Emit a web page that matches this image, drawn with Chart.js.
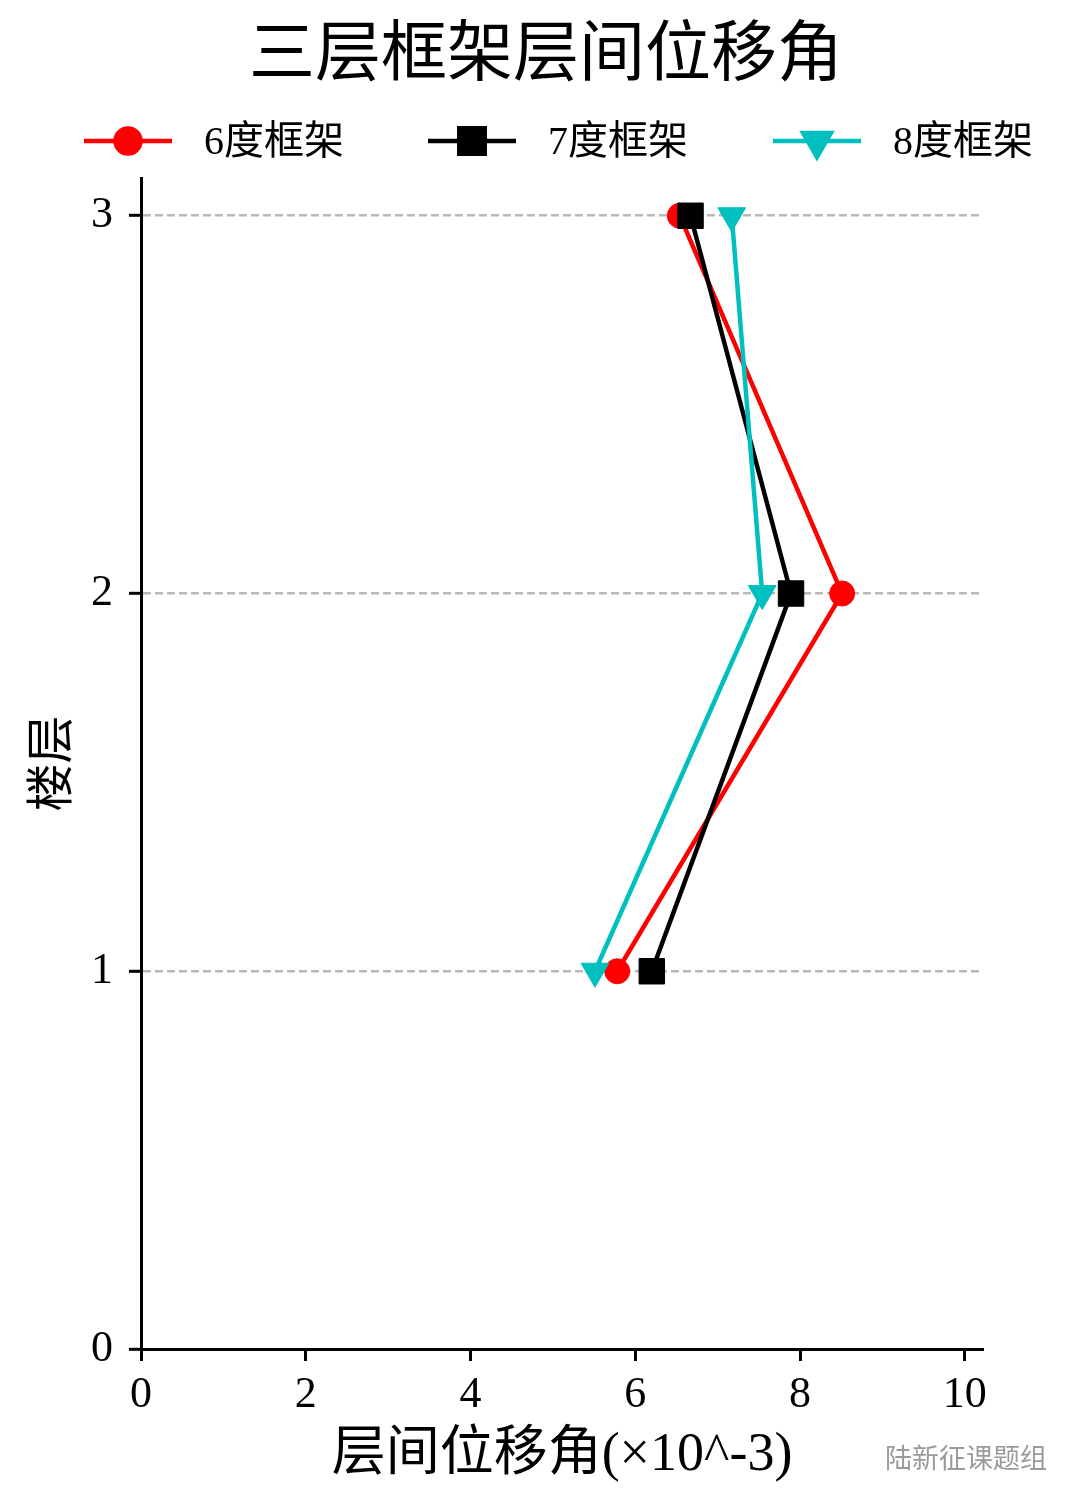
<!DOCTYPE html>
<html>
<head>
<meta charset="utf-8">
<script src="https://cdn.jsdelivr.net/npm/chart.js@4.4.0/dist/chart.umd.min.js"></script>
<style>
  html, body { margin: 0; padding: 0; background: #fff; }
  #wrap { width: 1080px; height: 1508px; position: relative; }
</style>
</head>
<body>
<div id="wrap"><canvas id="chart"></canvas></div>
<script>
// === DATA ===
const floors = [1, 2, 3];
const drift6 = [5.78, 8.51, 6.54];
const drift7 = [6.20, 7.89, 6.67];
const drift8 = [5.51, 7.54, 7.17];
const seriesNames = ['6度框架', '7度框架', '8度框架'];
const titleText = '三层框架层间位移角';
const xTitle = '层间位移角(×10^-3)';
const yTitle = '楼层';
const watermark = '陆新征课题组';

const FONT = '"Liberation Serif", "Noto Sans CJK SC", serif';
Chart.defaults.font.family = FONT;
Chart.defaults.color = '#000';

const toPts = arr => arr.map((v, i) => ({ x: v, y: floors[i] }));

// title + legend + watermark drawn on top of the canvas
const headerPlugin = {
  id: 'header',
  afterDraw(chart) {
    const ctx = chart.ctx;
    ctx.save();
    ctx.fillStyle = '#000';
    ctx.font = '66px ' + FONT;
    ctx.textAlign = 'center';
    ctx.textBaseline = 'middle';
    ctx.fillText(titleText, 546, 58);

    const legendX = [84, 428, 773];
    chart.data.datasets.forEach((ds, i) => {
      const x0 = legendX[i], y0 = 141;
      ctx.strokeStyle = ds.borderColor;
      ctx.lineWidth = ds.borderWidth;
      ctx.beginPath(); ctx.moveTo(x0, y0); ctx.lineTo(x0 + 88, y0); ctx.stroke();
      ctx.fillStyle = ds.pointBackgroundColor;
      ctx.strokeStyle = ds.pointBorderColor;
      Chart.helpers.drawPoint(ctx, { pointStyle: ds.pointStyle, radius: ds.pointRadius, rotation: ds.pointRotation || 0, borderWidth: 1 }, x0 + 44, y0);
      ctx.fillStyle = '#000';
      ctx.font = '40px ' + FONT;
      ctx.textAlign = 'left';
      ctx.fillText(ds.label, x0 + 120, y0 + 2);
    });

    ctx.fillStyle = '#9a9a9a';
    ctx.font = '27px ' + FONT;
    ctx.textAlign = 'left';
    ctx.fillText(watermark, 885, 1461);
    ctx.restore();
  }
};

const mkSet = (label, data, color, style, radius, rot, order) => ({
  label, data: toPts(data), showLine: true, order,
  borderColor: color, borderWidth: 4.5,
  pointStyle: style, pointRadius: radius, pointHoverRadius: radius, pointRotation: rot,
  pointBackgroundColor: color, pointBorderColor: color, pointBorderWidth: 1
});

new Chart(document.getElementById('chart'), {
  type: 'scatter',
  data: {
    datasets: [
      mkSet(seriesNames[0], drift6, '#ff0000', 'circle', 12.5, 0, 3),
      mkSet(seriesNames[1], drift7, '#000000', 'rect', 18, 0, 2),
      mkSet(seriesNames[2], drift8, '#00bfbf', 'triangle', 16, 180, 1)
    ]
  },
  options: {
    responsive: true, maintainAspectRatio: false, animation: false,
    layout: { padding: { left: 0, right: 97, top: 178, bottom: 0 } },
    plugins: { legend: { display: false }, title: { display: false }, tooltip: { enabled: false } },
    scales: {
      x: {
        type: 'linear', min: 0, max: 10.22,
        afterFit(s) { s.height = 159; },
        ticks: { stepSize: 2, includeBounds: false, padding: 8, color: '#000', font: { size: 44 } },
        grid: { drawOnChartArea: false, drawTicks: true, tickLength: 12, tickWidth: 3, tickColor: '#000' },
        border: { color: '#000', width: 3 },
        title: { display: true, text: xTitle, color: '#000', font: { size: 54 }, padding: { top: 0, bottom: 20 } }
      },
      y: {
        type: 'linear', min: 0, max: 3.1,
        afterFit(s) { s.width = 141; },
        ticks: { stepSize: 1, includeBounds: false, padding: 16, color: '#000', font: { size: 44 } },
        grid: { color: '#b8b8b8', lineWidth: 2.6, drawTicks: true, tickLength: 12, tickWidth: 3, tickColor: '#000', tickBorderDash: [] },
        border: { color: '#000', width: 3, dash: [8, 4] },
        title: { display: true, text: yTitle, color: '#000', font: { size: 48 }, padding: { top: 26, bottom: 0 } }
      }
    }
  },
  plugins: [headerPlugin]
});
</script>
</body>
</html>
